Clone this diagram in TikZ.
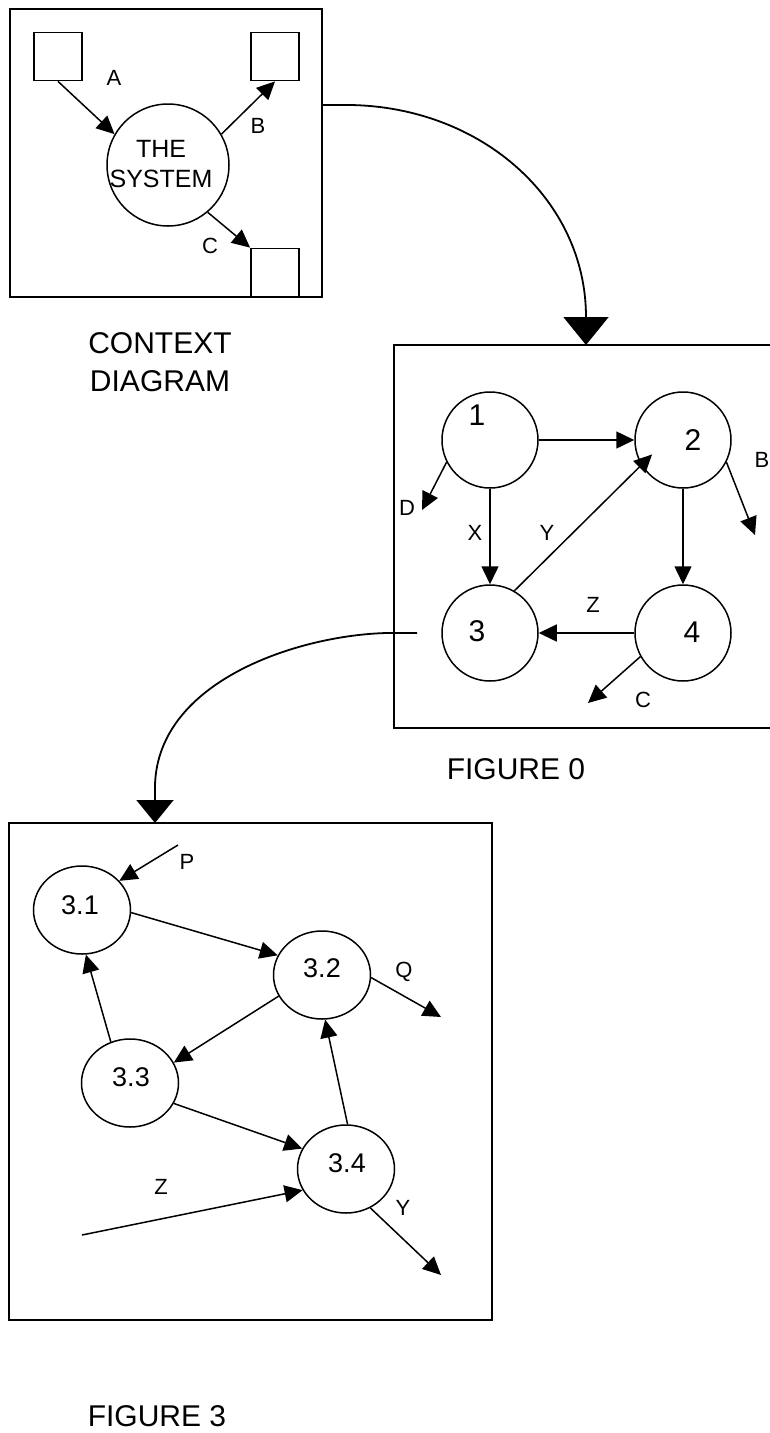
\documentclass[tikz,border=0pt]{standalone}
\usepackage{fontspec}
\setmainfont{Liberation Sans}
\usetikzlibrary{arrows.meta,shapes.geometric,calc}
\tikzset{
  frame/.style={draw, line width=2pt},
  sq/.style={draw, line width=1.8pt, minimum size=48pt, inner sep=0pt},
  proc/.style={circle, draw, line width=1.5pt, minimum size=96pt, inner sep=0pt},
  bigproc/.style={circle, draw, line width=1.5pt, minimum size=122pt, inner sep=0pt},
  ell/.style={ellipse, draw, line width=1.5pt, minimum width=97pt, minimum height=88pt, inner sep=0pt},
  flow/.style={line width=1.5pt, -{Triangle[length=18pt,width=17pt]}},
  bigflow/.style={line width=1.8pt, -{Triangle[length=28pt,width=45pt]}},
  midflow/.style={line width=1.8pt, -{Triangle[length=23pt,width=37pt]}},
  lbl/.style={font=\fontsize{22}{26}\selectfont, inner sep=0pt},
  num/.style={font=\fontsize{30}{36}\selectfont, inner sep=0pt},
  subnum/.style={font=\fontsize{27}{32}\selectfont, inner sep=0pt},
  caption/.style={font=\fontsize{30}{38}\selectfont, inner sep=0pt, align=center},
}
\begin{document}
\begin{tikzpicture}[x=1pt,y=-1pt]
\useasboundingbox (0,0) rectangle (770,1433);

% ---------------- Context diagram ----------------
\draw[frame] (10,9) rectangle (322,297);
\node[sq] (sqA) at (58,56.5) {};
\node[sq] (sqB) at (275,56.5) {};
\node[sq] (sqC) at (275,272.5) {};
\node[bigproc] (sys) at (168,165) {};
\node[font=\fontsize{25}{30}\selectfont, inner sep=0pt, align=center] at (161,164) {THE\\SYSTEM};
\draw[flow] (sqA.south) -- (sys.150);
\draw[flow] (sys.30) -- (sqB.south);
\draw[flow] (sys.-50) -- (sqC.north west);
\node[lbl] at (114,78) {A};
\node[lbl] at (258,126) {B};
\node[lbl] at (210,246) {C};
\node[caption] at (160,362) {CONTEXT\\DIAGRAM};

% connector to figure 0
\coordinate (ctxout) at (322,105);
\coordinate (f0in) at (586,345);
\draw[bigflow] (ctxout) -- (350,105) .. controls (482,107) and (586,200) .. (586,317) -- (f0in);

% ---------------- Figure 0 ----------------
\draw[frame] (775,345) -- (394,345) -- (394,728) -- (775,728);
\node[proc] (c1) at (490,440) {};
\node[proc] (c2) at (683,440) {};
\node[proc] (c3) at (490,633) {};
\node[proc] (c4) at (683,633) {};
\node[num] at (477,415) {1};
\node[num] at (693,440) {2};
\node[num] at (477,631) {3};
\node[num] at (692,632) {4};
\draw[flow] (c1) -- (c2);
\draw[flow] (c1) -- (c3);
\draw[flow] (c2) -- (c4);
\draw[flow] (c4) -- (c3);
\draw[flow] (c3.60) -- ($(c2)!0.7!(c2.205)$);
\coordinate (Dend) at (422,510);
\coordinate (Bend) at (755,535);
\coordinate (Cend) at (588,703);
\draw[flow] (c1.207) -- (Dend);
\draw[flow] (c2.-27) -- (Bend);
\draw[flow] (c4.209) -- (Cend);
\node[lbl] at (407,508) {D};
\node[lbl] at (762,460) {B};
\node[lbl] at (643,700) {C};
\node[lbl] at (475,533) {X};
\node[lbl] at (547,533) {Y};
\node[lbl] at (593,605) {Z};
\node[caption] at (516,769) {FIGURE 0};

% connector to figure 3
\coordinate (f0out) at (417,633);
\coordinate (f3in) at (155,823);
\draw[midflow] (f0out) -- (387,633) .. controls (300,635) and (158,680) .. (155,785) -- (f3in);

% ---------------- Figure 3 ----------------
\draw[frame] (9,823) rectangle (492,1320);
\node[ell] (e31) at (82,910) {};
\node[ell] (e32) at (322,975) {};
\node[ell] (e33) at (130,1083) {};
\node[ell] (e34) at (346,1169) {};
\node[subnum] at (80,905) {3.1};
\node[subnum] at (322,968) {3.2};
\node[subnum] at (131,1077) {3.3};
\node[subnum] at (347,1163) {3.4};
\coordinate (Pstart) at (178,845);
\coordinate (Qend) at (441,1017);
\coordinate (Zstart) at (82,1235);
\coordinate (Yend) at (441,1275);
\draw[flow] (Pstart) -- (e31.38);
\draw[flow] (e31.-3) -- (e32.156);
\draw[flow] (e33.115) -- (e31.-85);
\draw[flow] (e32.206) -- (e33.25);
\draw[flow] (e33.-25) -- (e34.155);
\draw[flow] (e34.88) -- (e32.-86);
\draw[flow] (e32.-3) -- (Qend);
\draw[flow] (Zstart) -- (e34.206);
\draw[flow] (e34.-58) -- (Yend);
\node[lbl] at (187,862) {P};
\node[lbl] at (404,972) {Q};
\node[lbl] at (161,1187) {Z};
\node[lbl] at (403,1208) {Y};
\node[caption] at (157,1416) {FIGURE 3};
\end{tikzpicture}
\end{document}
